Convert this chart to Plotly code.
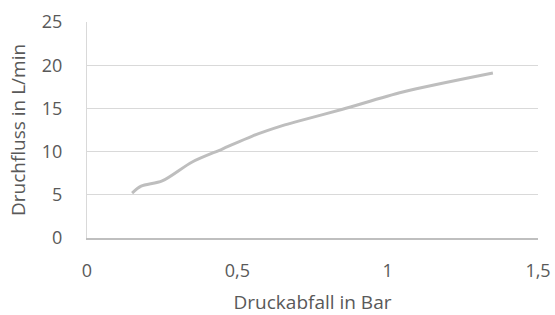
import plotly.graph_objects as go

druckabfall = [0.15, 0.18, 0.25, 0.35, 0.45, 0.55, 0.65, 0.70, 0.85, 1.05, 1.35]
durchfluss = [5.2, 6.0, 6.6, 8.8, 10.3, 11.8, 13.0, 13.5, 14.9, 16.9, 19.1]
x_ticks = [0, 0.5, 1, 1.5]
x_tick_labels = ["0", "0,5", "1", "1,5"]
y_ticks = [0, 5, 10, 15, 20, 25]

fig = go.Figure()
fig.add_trace(go.Scatter(
    x=druckabfall, y=durchfluss, mode="lines",
    line=dict(color="#BEBEBE", width=3, shape="spline", smoothing=0.8),
    showlegend=False, hoverinfo="skip"))

tick_font = dict(family="Open Sans, Liberation Sans, sans-serif", size=18, color="#595959")
title_font = dict(family="Open Sans, Liberation Sans, sans-serif", size=19, color="#595959")
fig.update_layout(
    width=555, height=315,
    margin=dict(l=87, r=17, t=22, b=77),
    paper_bgcolor="white", plot_bgcolor="white",
    font=tick_font,
)
fig.update_xaxes(
    range=[0, 1.5], tickvals=x_ticks, ticktext=x_tick_labels,
    showgrid=False, zeroline=False, showline=True, linecolor="#BFBFBF", linewidth=1.5,
    ticks="", ticklabelstandoff=16, tickfont=tick_font, automargin=False,
    title=dict(text="Druckabfall in Bar", standoff=21, font=title_font),
)
fig.update_yaxes(
    range=[0, 25], tickvals=y_ticks,
    showgrid=True, gridcolor="#D9D9D9", gridwidth=1, zeroline=False,
    showline=True, linecolor="#D9D9D9", linewidth=1, mirror=False,
    ticks="", ticklabelstandoff=20, tickfont=tick_font, automargin=False,
    title=dict(text="Druchfluss in L/min", standoff=11, font=title_font),
)
fig.write_html("out.html", config={"displayModeBar": False},
               post_script="document.body.style.margin='0';")
